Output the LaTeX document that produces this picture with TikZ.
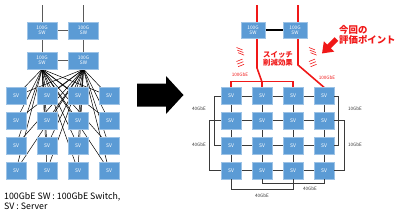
\documentclass[tikz,border=0pt]{standalone}
\usepackage{fontspec}
\setmainfont{Noto Sans CJK JP}
\usetikzlibrary{calc,arrows.meta}
\pgfdeclarelayer{bg}
\pgfsetlayers{bg,main}
\definecolor{boxblue}{HTML}{5B9BD5}
\definecolor{boxedge}{HTML}{9DC3E6}
\definecolor{hired}{HTML}{F01818}
\definecolor{wire}{HTML}{3A3A3A}
\definecolor{greywire}{HTML}{5A5A5A}
\begin{document}
\begin{tikzpicture}[x=1pt,y=-1pt,
  swbox/.style={fill=boxblue,draw=boxedge,line width=0.4pt,minimum width=30pt,minimum height=17pt,inner sep=0pt,text=white,font=\fontsize{4.8}{5.4}\selectfont,align=center},
  swsmall/.style={swbox,minimum width=24pt,minimum height=16pt},
  svbox/.style={fill=boxblue,draw=boxedge,line width=0.4pt,minimum width=20pt,minimum height=17pt,inner sep=0pt,text=white,font=\fontsize{5}{6}\selectfont},
  fan/.style={black,line width=0.5pt},
  uplink/.style={greywire,line width=0.8pt},
  mesh/.style={wire,line width=0.7pt},
  redw/.style={hired,line width=1.6pt},
  redthin/.style={hired,line width=1.1pt},
  lbl/.style={font=\fontsize{4.6}{5}\selectfont,text=wire,inner sep=0pt},
  redlbl/.style={font=\fontsize{4.6}{5}\selectfont,text=hired,inner sep=0pt},
  tick/.style={hired,line width=0.6pt}]
\useasboundingbox (0,0) rectangle (400,220);

% ---------- left: before ----------
\node[swbox] (la) at (42,30.5) {100G\\SW};
\node[swbox] (lb) at (83.5,30.5) {100G\\SW};
\node[swbox] (lc) at (42,60.5) {100G\\SW};
\node[swbox] (ld) at (83.5,60.5) {100G\\SW};
\foreach \i in {1,...,4}{
  \foreach \j in {1,...,4}{
    \node[svbox] (L\i\j) at ({16+31*(\i-1)},{96+24.8*(\j-1)}) {SV};
    \node[svbox] (R\i\j) at ({231+31*(\i-1)},{96+24.8*(\j-1)}) {SV};
  }
}
\coordinate (lta) at (42,5);
\coordinate (ltb) at (83.5,5);
\begin{pgfonlayer}{bg}
  \draw[uplink] (lta) -- (la.north);
  \draw[uplink] (ltb) -- (lb.north);
  \draw[uplink] (la) -- (lb);
  \draw[uplink] (la) -- (lc);
  \draw[uplink] (lb) -- (ld);
  \draw[uplink] (lc) -- (ld);
  \foreach \s in {lc,ld}{
    \foreach \i in {1,...,4}{
      \foreach \j in {1,...,4}{
        \draw[fan] (\s.south) -- (L\i\j.center);
      }
    }
  }
\end{pgfonlayer}

\node[anchor=west,inner sep=0pt,font=\fontsize{8.8}{9}\selectfont] (leg1) at (4,197) {100GbE SW : 100GbE Switch,};
\node[anchor=west,inner sep=0pt,font=\fontsize{8.8}{9}\selectfont] (leg2) at (4,206.5) {SV : Server};

% ---------- big arrow ----------
\fill[black] (137,83.5) -- (166,83.5) -- (166,76) -- (183.5,95) -- (166,114) -- (166,106.5) -- (137,106.5) -- cycle;

% ---------- right: after ----------
\node[swsmall] (ra) at (253,30) {100G\\SW};
\node[swsmall] (rb) at (295,30) {100G\\SW};
\coordinate (rt1) at (257,5);
\coordinate (rk1) at (257,68);
\coordinate (rj1) at (262,82);
\coordinate (rt2) at (298,5);
\coordinate (rk2) at (298,65);
\begin{pgfonlayer}{bg}
  \draw[black,line width=1.5pt] (ra) -- (rb);
  \draw[redw] (rt1) -- (rk1) -- (rj1) -- (R21.north);
  \draw[redw] (rt2) -- (rk2) -- (R41.north);
  \draw[redthin] (R11.north) -- ++(0,-5.5) -| (R31.north);
  % mesh
  \foreach \i/\n in {1/2,2/3,3/4}{
    \foreach \j in {1,...,4}{
      \draw[mesh] (R\i\j) -- (R\n\j);
      \draw[mesh] (R\j\i) -- (R\j\n);
    }
  }
\end{pgfonlayer}
% wrap links
\draw[mesh] (R11.west) -- ++(-6,0) |- (R13.west);
\draw[mesh] (R12.west) -- ++(-11,0) |- (R14.west);
\draw[mesh] (R41.east) -- ++(4.5,0) |- (R43.east);
\draw[mesh] (R42.east) -- ++(10.5,0) |- (R44.east);
\draw[mesh] (R14.south) -- ++(0,10) -| (R34.south);
\draw[mesh] (R24.south) -- ++(0,4) -| (R44.south);

\node[lbl] (g1) at (199,108.5) {40GbE};
\node[lbl] (g2) at (199,145) {40GbE};
\node[lbl] (g3) at (355,108.5) {10GbE};
\node[lbl] (g4) at (355,145) {10GbE};
\node[lbl] (g5) at (262,196) {40GbE};
\node[lbl] (g6) at (310,189) {40GbE};
\node[redlbl] (h1) at (240,75) {100GbE};
\node[redlbl] (h2) at (327,78) {100GbE};

\node[text=hired,font=\fontsize{7.4}{8.6}\selectfont\bfseries,align=center,inner sep=0pt] (eff) at (278,59) {スイッチ\\削減効果};
\node[text=hired,font=\fontsize{9.4}{10.6}\selectfont\bfseries,align=left,anchor=west,inner sep=0pt] (pt) at (339,35) {今回の\\評価ポイント};

% red pointer arrow
\coordinate (pa) at (336.5,39);
\coordinate (pb) at (322,53.5);
\draw[hired,line width=5pt,-{Triangle[width=14pt,length=10pt]}] (pa) -- (pb);

% emphasis ticks
\foreach \x in {236.5,309}{
  \foreach \k in {0,1,2}{
    \draw[tick] ({\x+0.8*\k},{47.5+2.6*\k}) -- ++(6,2.4);
    \draw[tick] ({\x+0.8*\k},{61.5+2.6*\k}) -- ++(6,-2.4);
  }
}
\end{tikzpicture}
\end{document}
